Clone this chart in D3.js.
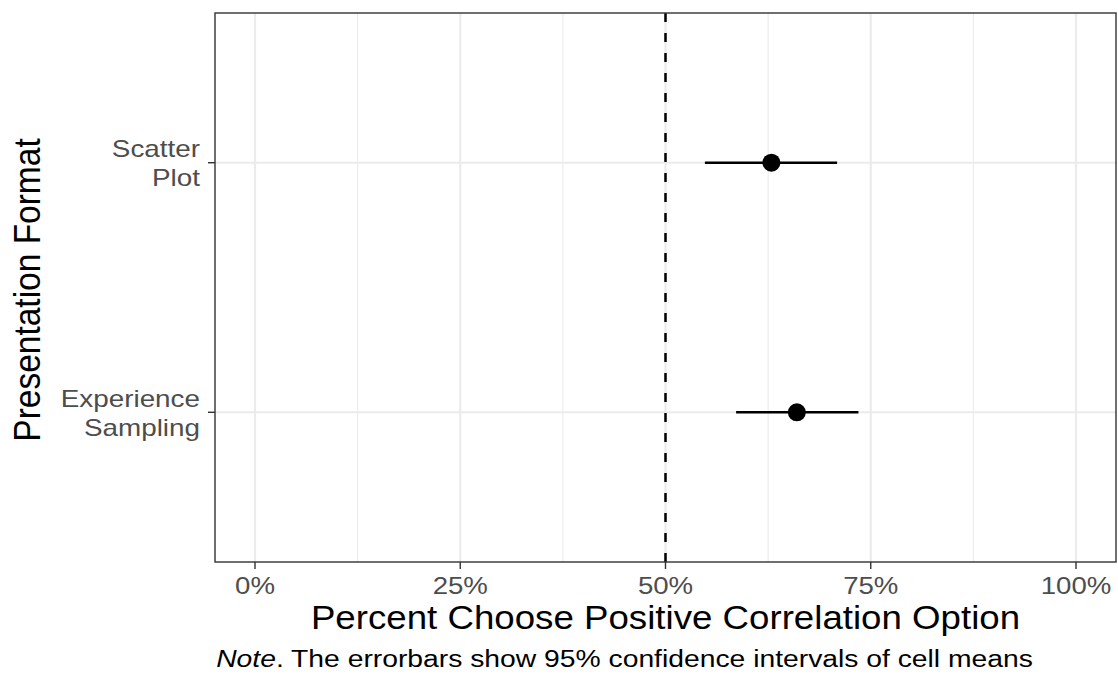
<!DOCTYPE html>
<html>
<head>
<meta charset="utf-8">
<script src="https://cdn.jsdelivr.net/npm/d3@7"></script>
<style>
  body { margin: 0; background: #fff; }
  text { font-family: "Liberation Sans", Arial, sans-serif; }
</style>
</head>
<body>
<div class="canvas"></div>
<script>
// data
const formats = ['Experience\nSampling', 'Scatter\nPlot'];
const means = [66.0, 62.9];
const lower = [58.6, 54.8];
const upper = [73.5, 70.9];
const xTicks = [0, 25, 50, 75, 100];
const xMinor = [12.5, 37.5, 62.5, 87.5];

const W = 1118, H = 674;
const panel = {left: 215, top: 13, right: 1116, bottom: 562};

const svg = d3.select('.canvas').append('svg')
    .attr('width', W).attr('height', H);

const x = d3.scaleLinear().domain([-5, 105])
    .range([255 - 821 * 0.05, 1076 + 821 * 0.05]);
const y = d3.scalePoint().domain(formats)
    .range([panel.bottom, panel.top]).padding(0.6);

// grid
const grid = svg.append('g');
grid.selectAll('.minor').data(xMinor).enter().append('line')
    .attr('x1', d => x(d)).attr('x2', d => x(d))
    .attr('y1', panel.top).attr('y2', panel.bottom)
    .attr('stroke', '#ebebeb').attr('stroke-width', 1.1);
grid.selectAll('.major').data(xTicks).enter().append('line')
    .attr('x1', d => x(d)).attr('x2', d => x(d))
    .attr('y1', panel.top).attr('y2', panel.bottom)
    .attr('stroke', '#ebebeb').attr('stroke-width', 2.2);
grid.selectAll('.hmajor').data(formats).enter().append('line')
    .attr('x1', panel.left).attr('x2', panel.right)
    .attr('y1', d => y(d)).attr('y2', d => y(d))
    .attr('stroke', '#ebebeb').attr('stroke-width', 2.2);

// reference line at 50% (dashes start from the bottom, like ggplot)
svg.append('line')
    .attr('x1', x(50)).attr('x2', x(50))
    .attr('y1', panel.bottom).attr('y2', panel.top)
    .attr('stroke', '#000').attr('stroke-width', 2.5)
    .attr('stroke-dasharray', '9,11');

// errorbars + points
const rows = formats.map((f, i) => ({f, m: means[i], lo: lower[i], hi: upper[i]}));
svg.selectAll('.err').data(rows).enter().append('line')
    .attr('x1', d => x(d.lo)).attr('x2', d => x(d.hi))
    .attr('y1', d => y(d.f)).attr('y2', d => y(d.f))
    .attr('stroke', '#000').attr('stroke-width', 2.4);
svg.selectAll('.pt').data(rows).enter().append('circle')
    .attr('cx', d => x(d.m)).attr('cy', d => y(d.f))
    .attr('r', 9).attr('fill', '#000');

// panel border
svg.append('rect')
    .attr('x', panel.left).attr('y', panel.top)
    .attr('width', panel.right - panel.left).attr('height', panel.bottom - panel.top)
    .attr('fill', 'none').attr('stroke', '#333').attr('stroke-width', 1.4);

// x axis
const xAxis = svg.append('g');
xTicks.forEach(t => {
  xAxis.append('line').attr('x1', x(t)).attr('x2', x(t))
      .attr('y1', panel.bottom).attr('y2', panel.bottom + 7)
      .attr('stroke', '#333').attr('stroke-width', 1.4);
  xAxis.append('text')
      .attr('transform', `translate(${x(t)},594) scale(1.15,1)`)
      .attr('text-anchor', 'middle').attr('font-size', 24).attr('fill', '#4d4d4d')
      .text(t + '%');
});

// y axis
formats.forEach(f => {
  svg.append('line').attr('x1', panel.left - 7).attr('x2', panel.left)
      .attr('y1', y(f)).attr('y2', y(f))
      .attr('stroke', '#333').attr('stroke-width', 1.4);
  const lines = f.split('\n');
  const t = svg.append('text')
      .attr('transform', `translate(200,${y(f) - 5.5}) scale(1.16,1)`)
      .attr('text-anchor', 'end')
      .attr('font-size', 24).attr('fill', '#4d4d4d');
  lines.forEach((l, i) => {
    t.append('tspan').attr('x', 0).attr('y', i * 29).text(l);
  });
});

// titles
svg.append('text')
    .attr('transform', `translate(${x(50)},629) scale(1.095,1)`)
    .attr('text-anchor', 'middle').attr('font-size', 33.5).attr('fill', '#000')
    .text('Percent Choose Positive Correlation Option');
svg.append('text')
    .attr('transform', `translate(40,290) scale(1.1,1) rotate(-90)`)
    .attr('text-anchor', 'middle').attr('font-size', 33.5).attr('fill', '#000')
    .text('Presentation Format');

const note = svg.append('text')
    .attr('transform', `translate(${x(50) - 41},667) scale(1.23,1)`)
    .attr('text-anchor', 'middle').attr('font-size', 23).attr('fill', '#000');
note.append('tspan').attr('font-style', 'italic').text('Note');
note.append('tspan').text('. The errorbars show 95% confidence intervals of cell means');
</script>
</body>
</html>
